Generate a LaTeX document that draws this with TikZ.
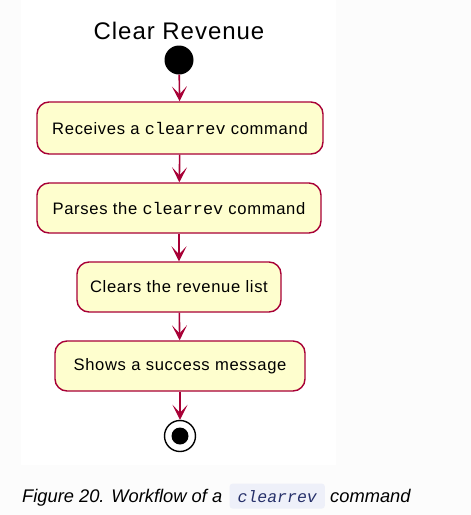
\documentclass[tikz,border=0pt]{standalone}
\usepackage{fontspec}
\setmainfont{Liberation Sans}
\setmonofont{Liberation Mono}
\newfontfamily\umlfont[LetterSpace=4]{Liberation Sans}
\newfontfamily\umlmono{Liberation Mono}
\newfontfamily\capfont{Liberation Sans}
\usetikzlibrary{arrows.meta}
\definecolor{umlred}{HTML}{A80036}
\definecolor{umlfill}{HTML}{FEFECE}
\definecolor{pagebg}{HTML}{FCFCFC}
\definecolor{codebg}{HTML}{EEF0F9}
\definecolor{codefg}{HTML}{26306A}
\begin{document}
\begin{tikzpicture}[x=1pt,y=-1pt,
    action/.style={draw=umlred, fill=umlfill, line width=1.4pt, rounded corners=12pt,
      minimum height=50pt, inner sep=0pt, font=\umlfont\fontsize{16.6}{19}\selectfont},
    startmark/.style={circle, fill=black, minimum size=29pt, inner sep=0pt},
    endmark/.style={circle, draw=black, line width=1.4pt, fill=white, minimum size=31pt, inner sep=0pt,
      path picture={\fill[black] (path picture bounding box.center) circle (8.5pt);}},
    flow/.style={umlred, line width=1.6pt, -{Stealth[length=15pt,width=15pt,inset=8pt]}},
    codechip/.style={fill=codebg, rounded corners=3pt, inner xsep=8pt, minimum height=25pt,
      text=codefg, font=\umlmono\itshape\fontsize{16.5}{19}\selectfont}]
  \useasboundingbox (0,0) rectangle (471,515);
  \fill[pagebg] (0,0) rectangle (471,515);
  \fill[white] (21,0) rectangle (336,465);
  \draw
    (179,31) node[font=\umlfont\fontsize{24}{28}\selectfont] (title) {Clear Revenue}
    (179,60) node[startmark] (start) {}
    (180,128) node[action, minimum width=286pt, minimum height=52pt] (receive) {Receives a {\umlmono\fontsize{16.8}{19}\selectfont clearrev} command}
    (179,208) node[action, minimum width=284pt] (parse) {Parses the {\umlmono\fontsize{16.8}{19}\selectfont clearrev} command}
    (179,287) node[action, minimum width=204pt] (clear) {Clears the revenue list}
    (180,366) node[action, minimum width=250pt] (success) {Shows a success message}
    (180,436) node[endmark] (stop) {};
  \begin{scope}[flow]
    \draw (start) to (receive);
    \draw (receive) to (parse);
    \draw (parse) to (clear);
    \draw (clear) to (success);
    \draw (success) to (stop);
  \end{scope}
  % caption below the figure
  \node[anchor=base west, font=\capfont\itshape\fontsize{18.3}{21}\selectfont, inner sep=0pt] (figcap) at (22,502) {Figure 20. Workflow of a};
  \node[codechip, anchor=base west] (capcode) at ([xshift=7pt]figcap.base east) {clearrev};
  \node[anchor=base west, font=\capfont\itshape\fontsize{18.3}{21}\selectfont, inner sep=0pt] (capcmd) at ([xshift=5pt]capcode.base east) {command};
\end{tikzpicture}
\end{document}
